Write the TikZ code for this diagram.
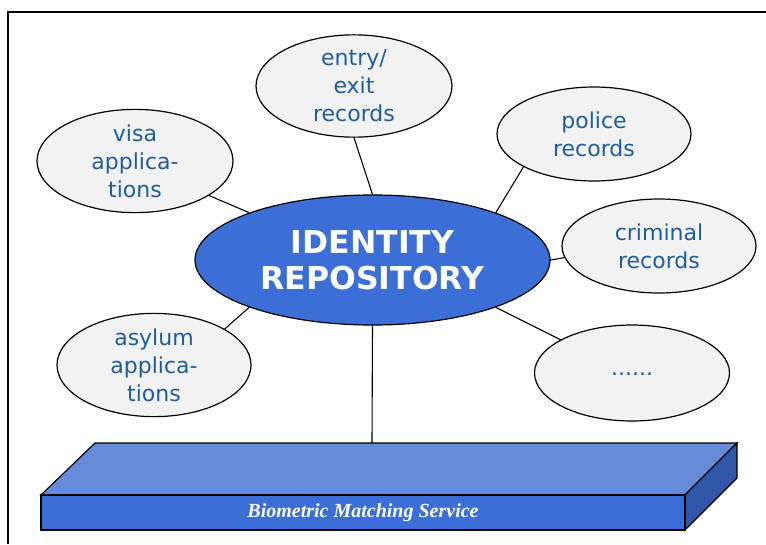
\documentclass[tikz,border=0pt]{standalone}
\usepackage{fontspec}
\setmainfont{DejaVu Sans}
\newfontfamily\slabfont{Liberation Serif}
\usetikzlibrary{shapes.geometric}
\definecolor{txtblue}{HTML}{1F5E9E}
\definecolor{coreblue}{HTML}{3C6FD5}
\definecolor{bubble}{HTML}{F2F2F2}
\definecolor{slabtop}{HTML}{658BDA}
\definecolor{slabfront}{HTML}{3B6ED6}
\definecolor{slabside}{HTML}{3057A9}
\tikzset{
  bubble/.style={ellipse, draw=black, line width=1.2pt, fill=bubble, inner sep=0pt,
    minimum width=194pt, minimum height=94pt, align=center, text=txtblue,
    font=\fontsize{22}{28}\selectfont},
  core/.style={ellipse, draw=black, line width=1.2pt, fill=coreblue, inner sep=0pt,
    minimum width=355pt, minimum height=130pt, align=center, text=white,
    font=\bfseries\fontsize{31.5}{36}\selectfont},
  link/.style={draw=black, line width=1.1pt},
  slabface/.style={draw=black, line width=1.2pt, line join=miter}
}
\begin{document}
\begin{tikzpicture}[x=1pt,y=-1pt]
\useasboundingbox (0,0) rectangle (766,544);
\fill[white] (0,0) rectangle (766,544);
\draw[line width=1.5pt] (766,12) -- (8,12) -- (8,544);
% slab
\filldraw[slabface, fill=slabtop] (41,495) -- (95,443) -- (737,443) -- (685,495) -- cycle;
\filldraw[slabface, fill=slabside] (685,495) -- (737,443) -- (737,478) -- (685,530) -- cycle;
\filldraw[slabface, fill=slabfront] (41,495) rectangle (685,530);
\node[text=white, font=\slabfont\bfseries\itshape\fontsize{20}{22}\selectfont] (slabtext) at (363,513) {Biometric Matching Service};
\coordinate (slabin) at (372,443);
% nodes
\node[core] (core) at (372.5,260) {IDENTITY\\REPOSITORY};
\node[bubble, minimum width=196pt, minimum height=98pt] (entry) at (354,86) {entry/\\exit\\records};
\node[bubble, minimum width=196pt, minimum height=96pt] (visa) at (135,161) {visa\\applica-\\tions};
\node[bubble] (police) at (594,134) {police\\records};
\node[bubble] (criminal) at (659,246) {criminal\\records};
\node[bubble] (asylum) at (154,365) {asylum\\applica-\\tions};
\node[bubble, minimum width=195pt, minimum height=96pt] (more) at (632,373) {\raisebox{-4pt}{......}};
% connectors
\draw[link] (entry.south) -- (core.north);
\draw[link] (visa.-25) -- (core.159);
\draw[link] (police.205) -- (core.21);
\draw[link] (criminal.187) -- (core.0);
\draw[link] (asylum.27) -- (core.201);
\draw[link] (more.155) -- (core.-21);
\draw[link] (core.south) -- (slabin);
\end{tikzpicture}
\end{document}
